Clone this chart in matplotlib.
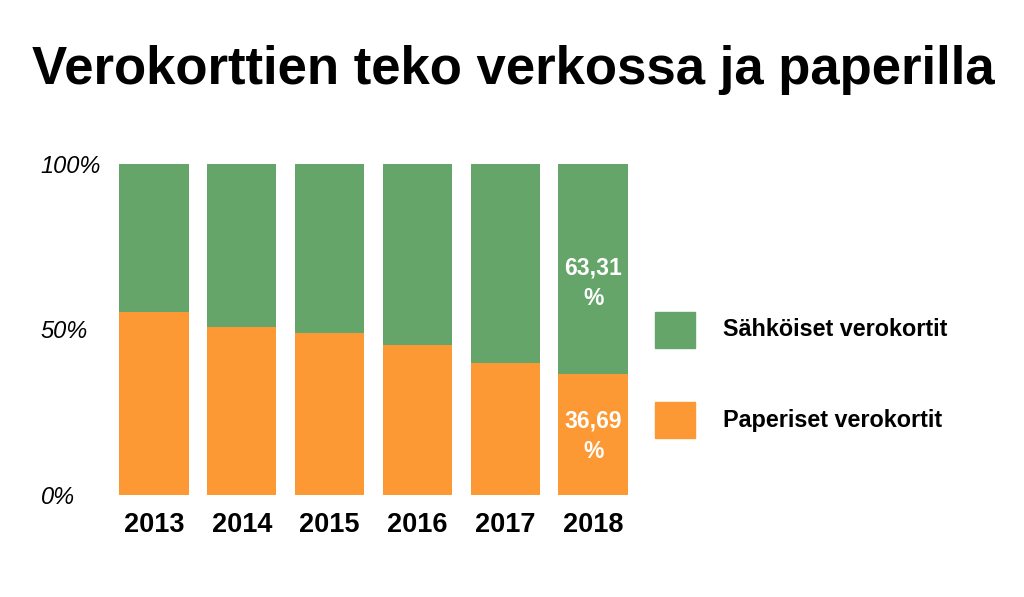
import matplotlib.pyplot as plt

years = ["2013", "2014", "2015", "2016", "2017", "2018"]
paper = [55.3, 50.8, 48.8, 45.3, 39.9, 36.69]
electronic = [100 - p for p in paper]
labels_2018 = ("63,31\n%", "36,69\n%")

green = "#65A56A"
orange = "#FD9935"

plt.rcParams["font.family"] = ["Liberation Sans", "DejaVu Sans"]

fig = plt.figure(figsize=(10.24, 5.97), dpi=100)
W, H = 1024, 597
# axes placed in pixel coords: x 110..637, y 164..495 (top-down)
ax = fig.add_axes([110 / W, 1 - 495 / H, (637 - 110) / W, (495 - 164) / H])

x = range(len(years))
ax.bar(x, paper, width=0.79, color=orange)
ax.bar(x, electronic, bottom=paper, width=0.79, color=green)

ax.set_xlim(-0.5, len(years) - 0.5)
ax.set_ylim(0, 100)
for s in ax.spines.values():
    s.set_visible(False)

ax.set_xticks(list(x))
ax.set_xticklabels(years, fontsize=19.5, fontweight="bold")
ax.set_yticks([0, 50, 100])
ax.set_yticklabels(["0%", "50%", "100%"], fontsize=17, fontstyle="italic", ha="left")
ax.tick_params(axis="y", length=0, pad=50)
ax.tick_params(axis="x", length=0, pad=12)

# data labels on the last bar
i = len(years) - 1
ax.text(i, 64, labels_2018[0], ha="center", va="center",
        color="white", fontsize=16.5, fontweight="bold", linespacing=1.4)
ax.text(i, 17.8, labels_2018[1], ha="center", va="center",
        color="white", fontsize=16.5, fontweight="bold", linespacing=1.4)

# legend drawn manually
for yc, col, lab in [(330, green, "Sähköiset verokortit"), (420, orange, "Paperiset verokortit")]:
    fig.patches.append(plt.Rectangle((655 / W, 1 - (yc + 18) / H), 40 / W, 36 / H,
                                     transform=fig.transFigure, color=col))
    fig.text(723 / W, 1 - yc / H, lab, fontsize=16.8, fontweight="bold", va="center")

fig.text(513 / W, 1 - 84 / H, "Verokorttien teko verkossa ja paperilla",
         fontsize=38, fontweight="bold", ha="center", va="baseline")

fig.savefig("out.png", dpi=100)
